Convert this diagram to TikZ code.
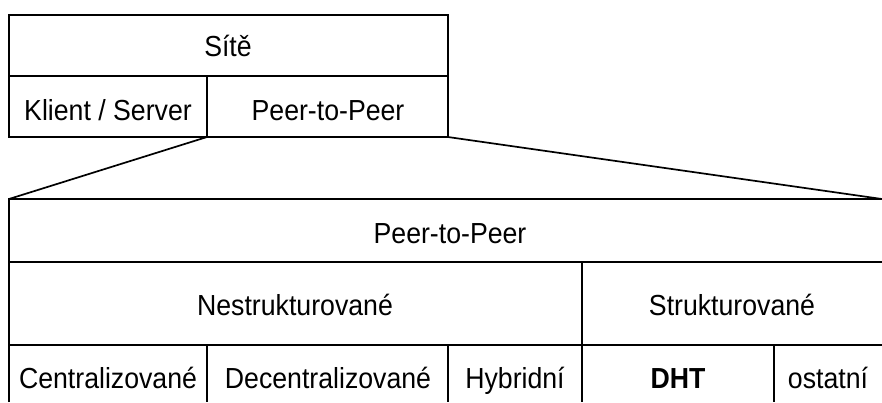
\documentclass[tikz,border=0pt]{standalone}
\usepackage{fontspec}
\setmainfont{Liberation Sans}[FakeStretch=0.92]
\begin{document}
\begin{tikzpicture}[x=1pt,y=-1pt,
  rule/.style={line width=1.7pt, line cap=butt},
  lbl/.style={inner sep=0pt, anchor=base, font=\fontsize{29}{33}\selectfont, text=black}]
\useasboundingbox (0,0) rectangle (882,402);
% coordinates
\coordinate (tl) at (9,15);
\coordinate (bm) at (207,137);
\coordinate (br) at (448,137);
\coordinate (pl) at (9,199);
\coordinate (pr) at (882,199);
% top table
\draw[rule, line cap=rect] (tl) rectangle (br);
\draw[rule] (9,76) -- (448,76);
\draw[rule] (207,76) -- (bm);
% zoom lines
\draw[rule] (bm) -- (pl);
\draw[rule] (br) -- (pr);
% bottom table
\draw[rule] (9,402) -- (pl) -- (pr);
\draw[rule] (9,262) -- (882,262);
\draw[rule] (9,345) -- (882,345);
\draw[rule] (582,262) -- (582,402);
\draw[rule] (207,345) -- (207,402);
\draw[rule] (448,345) -- (448,402);
\draw[rule] (774,345) -- (774,402);
% labels
\node[lbl] (site) at (228,56) {Sítě};
\node[lbl] (ks) at (108,120) {Klient / Server};
\node[lbl] (p2p) at (328,120) {Peer-to-Peer};
\node[lbl] (p2pb) at (450,243) {Peer-to-Peer};
\node[lbl] (nes) at (295,315) {Nestrukturované};
\node[lbl] (str) at (732,315) {Strukturované};
\node[lbl] (cen) at (108,388) {Centralizované};
\node[lbl] (dec) at (328,388) {Decentralizované};
\node[lbl] (hyb) at (515,388) {Hybridní};
\node[lbl, font=\fontsize{29}{33}\selectfont\bfseries] (dht) at (678,388) {DHT};
\node[lbl] (ost) at (828,388) {ostatní};
\end{tikzpicture}
\end{document}
